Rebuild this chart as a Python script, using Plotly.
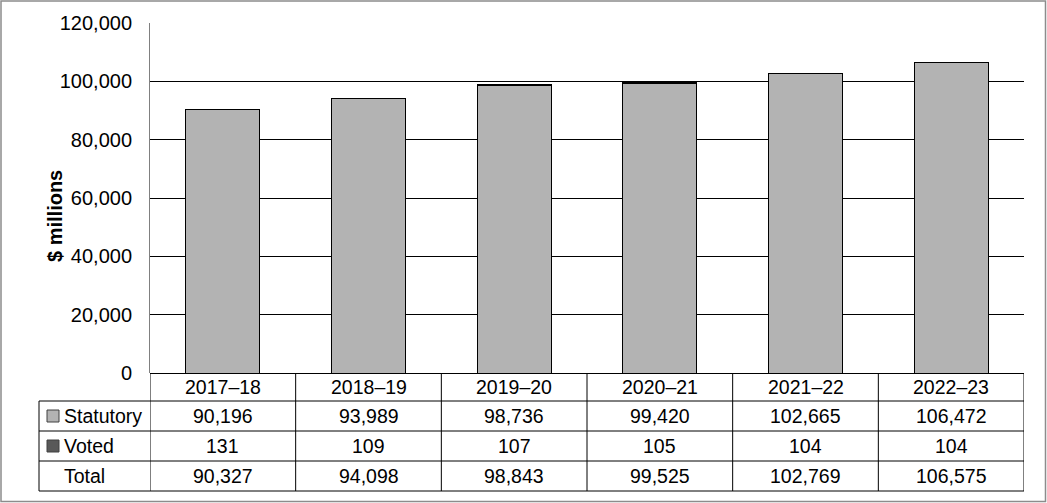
import plotly.graph_objects as go

years = ["2017–18", "2018–19", "2019–20", "2020–21", "2021–22", "2022–23"]
statutory = [90196, 93989, 98736, 99420, 102665, 106472]
voted = [131, 109, 107, 105, 104, 104]
total = [90327, 94098, 98843, 99525, 102769, 106575]
series_names = ["Statutory", "Voted"]
y_ticks = [0, 20000, 40000, 60000, 80000, 100000, 120000]

STAT_COLOR = "#b3b3b3"
VOTED_COLOR = "#595959"
FONT = "Liberation Sans, Arial, sans-serif"
FS = 20
TFS = 19.5

W, H = 1047, 503
L, R, T, B = 150, 23, 23, 130
PW, PH = W - L - R, H - T - B
Y0 = H - B  # pixel of paper y=0


def px(p):
    return (p - L) / PW


def py(p):
    return (Y0 - p) / PH


fig = go.Figure()
fig.add_trace(go.Bar(x=years, y=statutory, name=series_names[0], marker=dict(color=STAT_COLOR, line=dict(color="black", width=1)), width=0.51))
fig.add_trace(go.Bar(x=years, y=voted, name=series_names[1], marker=dict(color=VOTED_COLOR, line=dict(color="black", width=1)), width=0.51))

shapes = []
ann = []
line = dict(color="black", width=1)
row_lines = [401, 431, 461, 491]
for r in row_lines:
    shapes.append(dict(type="line", xref="paper", yref="paper", x0=px(39), x1=1, y0=py(r), y1=py(r), line=line))
shapes.append(dict(type="line", xref="paper", yref="paper", x0=px(39), x1=px(39), y0=py(401), y1=py(491), line=line))
for i in range(len(years) + 1):
    shapes.append(dict(type="line", xref="x", yref="paper", x0=i - 0.5, x1=i - 0.5, y0=0, y1=py(491), line=line))
shapes.append(dict(type="rect", xref="paper", yref="paper", x0=px(1), x1=px(1045.5), y0=py(501.5), y1=py(1), line=dict(color="#8c8c8c", width=1.5), layer="below"))

rows = [(387, None, years), (416, series_names[0], statutory), (446, series_names[1], voted), (476, "Total", total)]
for yc, label, vals in rows:
    for i, v in enumerate(vals):
        txt = v if isinstance(v, str) else f"{v:,}"
        ann.append(dict(x=years[i], y=py(yc), xref="x", yref="paper", text=txt, showarrow=False,
                        font=dict(size=TFS, color="black", family=FONT), xanchor="center", yanchor="middle"))
    if label:
        ann.append(dict(x=px(62), y=py(yc), xref="paper", yref="paper", text=label, showarrow=False,
                        font=dict(size=TFS, color="black", family=FONT), xanchor="left", yanchor="middle"))

for yc, col in [(416, STAT_COLOR), (446, VOTED_COLOR)]:
    shapes.append(dict(type="rect", xref="paper", yref="paper", x0=px(47), x1=px(59), y0=py(yc + 6), y1=py(yc - 6),
                       fillcolor=col, line=dict(color="#404040", width=1)))

ann.append(dict(x=px(55), y=py(216), xref="paper", yref="paper", text="<b>$ millions</b>", textangle=-90, showarrow=False,
                font=dict(size=FS, color="black", family=FONT), xanchor="center", yanchor="middle"))

fig.update_layout(
    barmode="stack",
    width=W, height=H,
    margin=dict(l=L, r=R, t=T, b=B),
    plot_bgcolor="white", paper_bgcolor="white",
    showlegend=False,
    shapes=shapes, annotations=ann,
    font=dict(family=FONT, size=FS, color="black"),
    xaxis=dict(showticklabels=False, showgrid=False, showline=False, ticks="", range=[-0.5, 5.5], zeroline=False),
    yaxis=dict(range=[0, 120000], tickvals=y_ticks, tickformat=",", showgrid=True, gridcolor="black", gridwidth=1,
               showline=True, linecolor="#808080", linewidth=1, ticks="", ticklabelstandoff=13,
               zeroline=True, zerolinecolor="black", zerolinewidth=1,
               tickfont=dict(size=FS, color="black", family=FONT)),
)

fig.write_html("out.html", config={"displayModeBar": False},
               post_script="document.body.style.margin='0px';document.body.style.overflow='hidden';")
